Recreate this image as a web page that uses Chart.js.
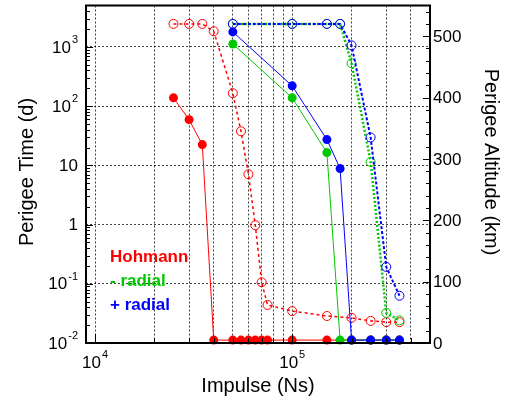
<!DOCTYPE html>
<html>
<head>
<meta charset="utf-8">
<script src="https://cdn.jsdelivr.net/npm/chart.js@4/dist/chart.umd.min.js"></script>
<style>
  html, body { margin: 0; padding: 0; background: #fff; }
  #wrap { width: 506px; height: 404px; }
</style>
</head>
<body>
<div id="wrap"><canvas id="perigeeChart" width="506" height="404"></canvas></div>
<script>
// impulse (Ns) for each run
const hohmannImpulse = [2.5e4, 3e4, 3.5e4, 4e4, 5e4, 5.5e4, 6e4, 6.5e4, 7e4, 7.5e4, 1e5, 1.5e5, 2e5, 2.5e5, 3e5, 3.5e5];
const radialImpulse = [5e4, 1e5, 1.5e5, 1.75e5, 2e5, 2.5e5, 3e5, 3.5e5];

// perigee time (d), left log axis
const hohmannTime = [138, 59, 22.4, 0.0112, 0.0112, 0.0112, 0.0112, 0.0112, 0.0112, 0.0112, 0.0112, 0.0112, 0.0112, 0.0112, 0.0112, 0.0112];
const minusTime = [1120, 138, 16.4, 0.0112, 0.0112, 0.0112, 0.0112, 0.0112];
const plusTime = [1790, 220, 27.2, 8.8, 0.0112, 0.0112, 0.0112, 0.0112];

// perigee altitude (km), right axis
const hohmannAlt = [520, 520, 520, 508, 407, 345, 275, 192, 99, 62, 52, 44, 41, 36, 34, 34];
const minusAlt = [520, 520, 520, 520, 456, 295, 49, 37];
const plusAlt = [520, 520, 520, 520, 485, 335, 124, 77];

// tick labels
const xTickValues = [1e4, 1e5];
const xTickLabels = ['10^4', '10^5'];
const yTickValues = [0.01, 0.1, 1, 10, 100, 1000];
const yTickLabels = ['10^-2', '10^-1', '1', '10', '10^2', '10^3'];
const altTickValues = [0, 100, 200, 300, 400, 500];
const altTickLabels = ['0', '100', '200', '300', '400', '500'];

const legendLabels = ['Hohmann', '- radial', '+ radial'];
const red = '#ff0000', green = '#00c800', blue = '#0000ff';

const FONT = '"Liberation Sans", Arial, sans-serif';

function toPoints(xs, ys) {
    return xs.map((x, i) => ({ x: x, y: ys[i] }));
}

function timeSet(label, xs, ys, color) {
    return {
        label: label,
        data: toPoints(xs, ys),
        yAxisID: 'y',
        borderColor: color,
        backgroundColor: color,
        borderWidth: 1,
        pointRadius: 4.5,
        pointBorderWidth: 0,
        pointBackgroundColor: color,
        clip: false
    };
}

function altSet(label, xs, ys, color, width, dash) {
    return {
        label: label,
        data: toPoints(xs, ys),
        yAxisID: 'y1',
        borderColor: color,
        backgroundColor: 'rgba(0,0,0,0)',
        borderWidth: width,
        borderDash: dash,
        pointRadius: 4.5,
        pointBorderWidth: 1,
        pointBorderColor: color,
        pointBackgroundColor: 'rgba(0,0,0,0)',
        clip: false
    };
}

// base plus superscript, e.g. 10^3
function drawPower(ctx, text, x, y, align) {
    const parts = text.split('^');
    ctx.font = '17px ' + FONT;
    const wBase = ctx.measureText(parts[0]).width;
    ctx.font = '11px ' + FONT;
    const wExp = parts[1] ? ctx.measureText(parts[1]).width + 1 : 0;
    const total = wBase + wExp;
    let left = x;
    if (align === 'right') left = x - total;
    if (align === 'center') left = x - total / 2;
    ctx.textAlign = 'left';
    ctx.textBaseline = 'middle';
    ctx.font = '17px ' + FONT;
    ctx.fillText(parts[0], left, y);
    if (parts[1]) {
        ctx.font = '11px ' + FONT;
        ctx.fillText(parts[1], left + wBase + 1, y - 8);
    }
}

const decor = {
    id: 'decor',
    afterDraw(chart) {
        const { ctx, chartArea: a } = chart;
        const xs = chart.scales.x, ys = chart.scales.y, y1 = chart.scales.y1;
        ctx.save();
        ctx.strokeStyle = '#000';
        ctx.fillStyle = '#000';
        ctx.lineWidth = 1;
        ctx.beginPath();
        // bottom ticks, inside
        for (let e = 3; e <= 5; e++) {
            for (let m = 1; m <= 9; m++) {
                const v = m * Math.pow(10, e);
                if (v <= xs.min || v >= xs.max) continue;
                const px = Math.round(xs.getPixelForValue(v)) + 0.5;
                ctx.moveTo(px, a.bottom);
                ctx.lineTo(px, a.bottom - (m === 1 ? 9 : 5));
            }
        }
        // left ticks
        for (let e = -2; e <= 3; e++) {
            for (let m = 1; m <= 9; m++) {
                const v = m * Math.pow(10, e);
                if (v <= ys.min || v >= ys.max) continue;
                const py = Math.round(ys.getPixelForValue(v)) + 0.5;
                ctx.moveTo(a.left, py);
                ctx.lineTo(a.left + (m === 1 ? 7 : 4), py);
            }
        }
        // right ticks
        for (let v = 20; v < y1.max; v += 20) {
            const py = Math.round(y1.getPixelForValue(v)) + 0.5;
            ctx.moveTo(a.right, py);
            ctx.lineTo(a.right - (v % 100 === 0 ? 7 : 4), py);
        }
        ctx.stroke();

        // frame
        ctx.lineWidth = 2;
        ctx.strokeRect(a.left, a.top, a.right - a.left, a.bottom - a.top);

        // tick labels
        xTickValues.forEach((v, i) => {
            drawPower(ctx, xTickLabels[i], xs.getPixelForValue(v), a.bottom + 20, 'center');
        });
        yTickValues.forEach((v, i) => {
            drawPower(ctx, yTickLabels[i], a.left - 8, ys.getPixelForValue(v) + 1, 'right');
        });
        ctx.font = '17px ' + FONT;
        ctx.textAlign = 'left';
        ctx.textBaseline = 'middle';
        altTickValues.forEach((v, i) => {
            ctx.fillText(altTickLabels[i], a.right + 3, y1.getPixelForValue(v) + 1);
        });

        // axis titles
        ctx.font = '20px ' + FONT;
        ctx.textAlign = 'center';
        ctx.fillText('Impulse (Ns)', (a.left + a.right) / 2, 386);
        ctx.save();
        ctx.translate(27, 172);
        ctx.rotate(-Math.PI / 2);
        ctx.fillText('Perigee Time (d)', 0, 0);
        ctx.restore();
        ctx.save();
        ctx.translate(491, 162);
        ctx.rotate(Math.PI / 2);
        ctx.fillText('Perigee Altitude (km)', 0, 0);
        ctx.restore();

        // in-plot legend
        ctx.font = 'bold 17px ' + FONT;
        ctx.textAlign = 'left';
        const legendColors = [red, green, blue];
        const legendY = [257, 281, 305];
        legendLabels.forEach((t, i) => {
            ctx.fillStyle = legendColors[i];
            ctx.fillText(t, 110, legendY[i]);
        });
        ctx.restore();
    }
};

const ctx = document.getElementById('perigeeChart').getContext('2d');

const perigeeChart = new Chart(ctx, {
    type: 'line',
    data: {
        datasets: [
            timeSet('+ radial time', radialImpulse, plusTime, blue),
            altSet('+ radial altitude', radialImpulse, plusAlt, blue, 2, [3, 2]),
            timeSet('- radial time', radialImpulse, minusTime, green),
            altSet('- radial altitude', radialImpulse, minusAlt, green, 2.5, [2, 2]),
            timeSet('Hohmann time', hohmannImpulse, hohmannTime, red),
            altSet('Hohmann altitude', hohmannImpulse, hohmannAlt, red, 1.5, [3, 3])
        ]
    },
    options: {
        responsive: false,
        animation: false,
        layout: {
            padding: { left: 86, top: 5, right: 76, bottom: 61 }
        },
        plugins: {
            legend: { display: false },
            tooltip: { enabled: false }
        },
        scales: {
            x: {
                type: 'logarithmic',
                min: 9000,
                max: 5e5,
                ticks: { display: false },
                border: { display: false, dash: [2, 2] },
                grid: { color: 'rgba(0,0,0,0.75)', lineWidth: 1, drawTicks: false },
                afterBuildTicks: (scale) => {
                    const t = [];
                    for (let e = 4; e <= 5; e++) {
                        for (let m = 1; m <= 9; m++) {
                            const v = m * Math.pow(10, e);
                            if (v < scale.max) t.push({ value: v });
                        }
                    }
                    scale.ticks = t;
                }
            },
            y: {
                type: 'logarithmic',
                position: 'left',
                min: 0.01,
                max: 5000,
                ticks: { display: false },
                border: { display: false, dash: [2, 2] },
                grid: { color: 'rgba(0,0,0,0.75)', lineWidth: 1, drawTicks: false },
                afterBuildTicks: (scale) => {
                    scale.ticks = yTickValues.filter(v => v > scale.min).map(v => ({ value: v }));
                }
            },
            y1: {
                type: 'linear',
                position: 'right',
                min: 0,
                max: 550,
                ticks: { display: false },
                border: { display: false },
                grid: { display: false, drawTicks: false }
            }
        }
    },
    plugins: [decor]
});
</script>
</body>
</html>
